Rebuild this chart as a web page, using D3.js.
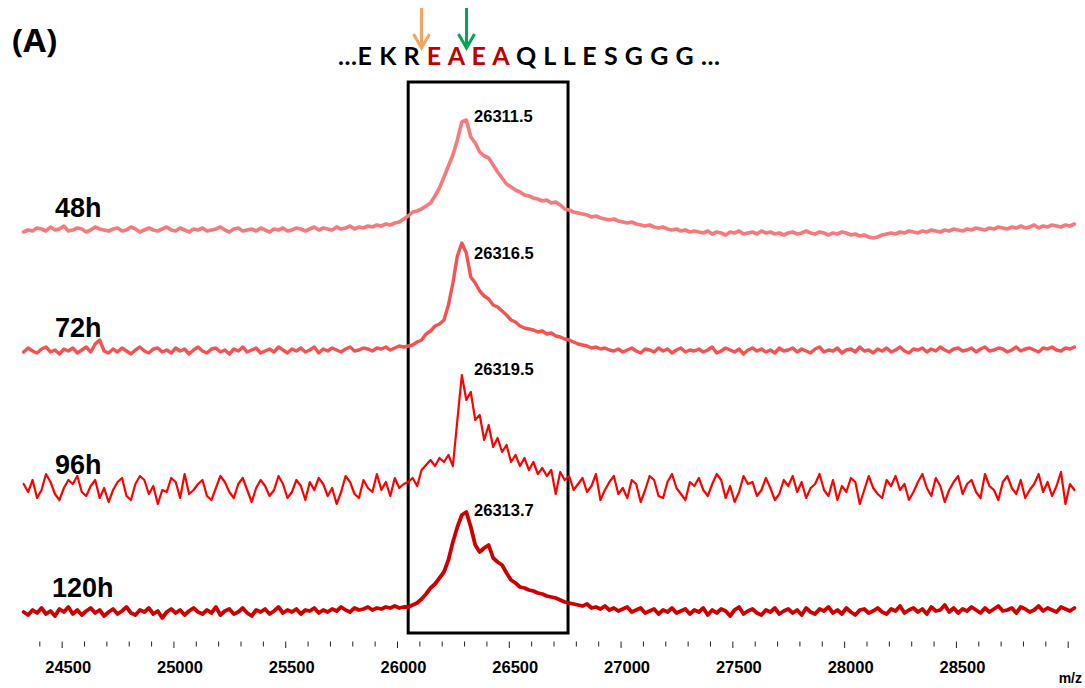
<!DOCTYPE html>
<html>
<head>
<meta charset="utf-8">
<script src="https://cdn.jsdelivr.net/npm/d3@7"></script>
<style>
html,body{margin:0;padding:0;background:#fff;}
svg{display:block;}
</style>
</head>
<body>
<svg id="chart" width="1085" height="688"></svg>
<script>
// ---------------- DATA ----------------
const mzStart = 24330;      // first sampled m/z
const mzStep = 20;          // sampling step (Da)
const seriesNames = ["48h", "72h", "96h", "120h"];
const peakLabels = ["26311.5", "26316.5", "26319.5", "26313.7"];
const tickValues = [24400,24500,24600,24700,24800,24900,25000,25100,25200,25300,25400,25500,25600,25700,25800,25900,26000,26100,26200,26300,26400,26500,26600,26700,26800,26900,27000,27100,27200,27300,27400,27500,27600,27700,27800,27900,28000,28100,28200,28300,28400,28500,28600,28700,28800,28900,29000];
const tickLabels = ["24500","25000","25500","26000","26500","27000","27500","28000","28500"];
const boxRange = [26050, 26765];
const sequenceBefore = "...E K R ";
const sequenceRed = "E A E A";
const sequenceAfter = " Q L L E S G G G ...";

const int48 = [
18,20,19,22,21,19,23,20,21,24,19,20,22,21,18,20,23,21,20,19,
21,22,19,20,23,21,18,20,22,20,19,21,23,20,19,22,20,18,21,20,
22,19,20,21,23,20,18,21,22,19,20,21,19,22,20,18,21,20,22,19,
20,22,21,19,21,23,20,22,21,20,23,21,22,24,21,23,22,24,23,25,
24,26,25,27,28,31,
34,38,39,41,44,47,54,62,73,84,95,110,128,130,113,107,98,94,92,85,78,72,66,63,60,58,55,54,52,51,49,50,47,48,45,41,40,38,37,
36,35,33,34,32,31,30,31,29,28,27,28,26,25,24,25,23,22,23,21,20,21,19,20,18,19,
18,17,19,16,18,17,15,18,17,19,16,17,18,16,19,17,18,16,17,15,
17,18,16,17,19,17,16,18,17,15,17,16,18,17,15,16,14,15,13,12,
13,15,16,17,16,18,17,19,18,17,19,18,20,19,18,20,19,21,20,19,
21,20,22,21,20,22,21,23,22,21,23,22,24,22,23,25,22,24,23,25,24,23,25,24,26];

const int72 = [
18,22,19,17,21,23,18,20,16,21,19,22,17,20,23,18,26,30,19,17,
21,18,22,19,16,20,23,19,17,21,22,18,20,17,22,19,21,16,20,23,
19,17,21,22,18,20,16,21,19,23,18,20,22,17,19,21,18,23,20,17,
21,19,22,18,20,23,17,21,19,22,20,18,21,23,19,20,22,21,19,22,
21,23,20,22,24,23,
24,25,28,30,36,39,44,46,50,65,87,114,127,117,93,87,79,74,71,65,63,59,55,50,48,44,42,41,40,38,39,36,37,34,33,31,30,28,26,
25,24,22,23,21,22,20,19,21,18,20,22,19,17,21,20,18,22,19,21,17,20,22,18,20,19,
21,18,20,23,17,19,22,20,18,21,16,20,22,19,21,18,20,17,22,19,
20,22,18,21,19,17,21,23,18,20,19,22,17,20,21,18,23,19,20,17,
21,19,22,18,20,23,19,17,21,20,22,18,21,19,23,20,18,21,22,19,
20,22,18,21,23,19,20,22,21,18,20,23,19,21,22,20,18,22,21,23,20,19,22,21,23];

const int96 = [
26,18,30,12,20,36,28,16,10,22,30,26,34,18,14,24,30,12,22,8,
20,28,32,14,10,26,34,30,16,24,6,20,18,32,28,12,36,16,20,26,
30,14,10,22,34,28,18,12,26,32,20,8,22,30,24,14,20,34,26,12,
18,30,24,10,28,20,32,26,14,22,6,18,34,28,16,12,30,22,18,36,
20,28,14,32,22,26,
28,32,24,40,45,50,44,52,48,55,44,90,135,110,118,90,95,70,85,63,72,58,65,48,55,44,52,40,48,36,42,34,40,16,38,30,34,20,26,
32,18,24,36,10,20,28,34,16,22,12,30,26,8,20,34,30,14,12,28,36,22,16,10,28,24,
32,20,14,26,36,30,12,24,8,18,34,26,28,14,20,32,22,10,16,30,
24,34,18,28,12,22,26,36,20,14,30,10,24,18,32,28,6,20,34,22,
16,12,30,24,34,20,26,10,18,28,36,22,14,32,24,8,20,28,34,16,
26,30,18,12,36,24,20,10,28,34,22,16,30,12,20,26,36,18,28,14,24,38,6,26,20];

const int120 = [
20,17,22,19,24,18,21,16,23,20,25,18,22,17,21,24,19,22,16,20,
23,18,21,25,19,17,22,20,24,18,21,14,20,23,19,22,17,21,24,20,
18,22,19,25,17,21,23,18,20,24,19,16,22,20,23,18,21,25,19,22,
20,23,18,22,21,24,19,22,20,23,21,25,22,20,24,22,23,25,22,24,
23,25,24,26,24,25,
25,27,29,33,38,44,48,54,60,72,90,105,117,120,105,87,80,84,87,74,70,67,59,52,49,45,44,42,41,39,38,36,35,34,32,30,29,28,27,
26,28,24,25,23,26,22,24,21,23,25,20,22,24,19,21,23,18,22,20,24,19,21,23,18,22,
20,24,17,22,19,23,21,16,22,25,18,21,23,19,17,22,20,24,18,21,
23,19,22,17,24,20,18,23,21,25,19,22,18,24,20,17,22,23,19,21,
24,20,18,23,21,26,19,22,24,20,23,18,25,21,22,27,20,24,19,23,
21,25,22,19,24,20,23,26,21,22,24,19,25,23,20,22,26,21,24,22,20,25,23,21,24];

const seriesValues = [int48, int72, int96, int120];

// ---------------- STYLE / LAYOUT ----------------
const colors = ["#F47A7C", "#F55252", "#FF0000", "#CC0000"];
const widths = [3.6, 3.4, 2.2, 3.8];
const trackZero = [250, 370, 510, 632];   // y of zero intensity for each track
const labelX = [55, 55, 55, 52];
const labelDy = [-13, -13, -16, -15];
const peakLabelDy = [2, 16, 0, 4];
const peakIdx = [99, 98, 98, 99];

const svg = d3.select("#chart");
const x = d3.scaleLinear().domain([24400, 29000]).range([39.3, 1067.7]);
const mz = d3.range(int48.length).map(i => mzStart + i * mzStep);

const numFont = "'Liberation Sans', Arial, sans-serif";
const seqFont = "Lato, 'Open Sans', sans-serif";

// box
svg.append("rect")
  .attr("x", x(boxRange[0])).attr("y", 82)
  .attr("width", x(boxRange[1]) - x(boxRange[0])).attr("height", 551)
  .attr("fill", "none").attr("stroke", "#000").attr("stroke-width", 3);

// traces
seriesValues.forEach((vals, k) => {
  const y = d3.scaleLinear().domain([0, 100]).range([trackZero[k], trackZero[k] - 100]);
  const line = d3.line().x((d, i) => x(mz[i])).y(d => y(d));
  svg.append("path")
    .attr("d", line(vals))
    .attr("fill", "none")
    .attr("stroke", colors[k])
    .attr("stroke-width", widths[k])
    .attr("stroke-linejoin", "round")
    .attr("stroke-linecap", "round");

  svg.append("text")
    .attr("x", labelX[k]).attr("y", y(20) + labelDy[k])
    .attr("font-family", numFont).attr("font-weight", "bold").attr("font-size", 27)
    .attr("fill", "#000").text(seriesNames[k]);

  svg.append("text")
    .attr("x", x(26300) + 10).attr("y", y(vals[peakIdx[k]]) + peakLabelDy[k])
    .attr("font-family", numFont).attr("font-weight", "bold").attr("font-size", 16.5)
    .attr("fill", "#000").text(peakLabels[k]);
});

// axis
const axisG = svg.append("g").attr("transform", "translate(0,641.5)");
const axis = d3.axisBottom(x).tickValues(tickValues).tickSize(5).tickSizeOuter(0).tickFormat("");
axisG.call(axis);
axisG.select(".domain").remove();
axisG.selectAll(".tick line")
  .attr("stroke", "#222").attr("stroke-width", 1)
  .attr("y2", d => d % 500 === 0 ? 6.5 : 5);
tickLabels.forEach(t => {
  svg.append("text")
    .attr("x", x(+t) + 6.5).attr("y", 673)
    .attr("text-anchor", "middle")
    .attr("font-family", numFont).attr("font-weight", "bold").attr("font-size", 16.5)
    .attr("fill", "#000").text(t);
});
svg.append("text")
  .attr("x", 1082).attr("y", 683).attr("text-anchor", "end")
  .attr("font-family", numFont).attr("font-weight", "bold").attr("font-size", 14)
  .attr("fill", "#000").text("m/z");

// panel label
svg.append("text")
  .attr("x", 12).attr("y", 52)
  .attr("font-family", "'Open Sans', sans-serif").attr("font-weight", "bold").attr("font-size", 33)
  .attr("fill", "#000").text("(A)");

// sequence
const seq = svg.append("text")
  .attr("x", 338).attr("y", 65)
  .attr("font-family", seqFont).attr("font-weight", "bold").attr("font-size", 25)
  .attr("textLength", 382).attr("lengthAdjust", "spacing")
  .attr("xml:space", "preserve")
  .attr("fill", "#000");
seq.append("tspan").text(sequenceBefore);
seq.append("tspan").attr("fill", "#C00000").text(sequenceRed);
seq.append("tspan").text(sequenceAfter);

// arrows
function arrow(cx, color) {
  svg.append("path")
    .attr("d", `M${cx},8 L${cx},48 M${cx - 8},34 L${cx},48 L${cx + 8},34`)
    .attr("fill", "none").attr("stroke", color).attr("stroke-width", 3)
    .attr("stroke-linecap", "butt").attr("stroke-linejoin", "miter");
}
arrow(421.5, "#F4A460");
arrow(466.5, "#00A651");
</script>
</body>
</html>
